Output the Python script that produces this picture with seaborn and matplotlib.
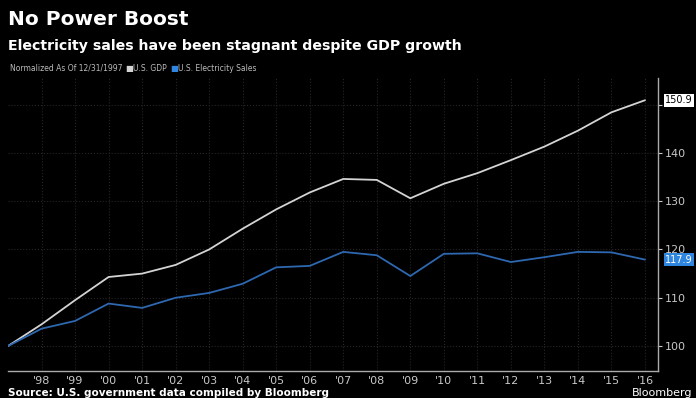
import pandas as pd
import matplotlib.pyplot as plt
import seaborn as sns

sns.set_theme(style="dark")
plt.rcParams['font.family'] = ['DejaVu Sans']

years = list(range(1997, 2017))
gdp = [100, 104.5, 109.5, 114.3, 115.0, 116.8, 120.0, 124.3, 128.3, 131.8,
       134.6, 134.4, 130.6, 133.6, 135.8, 138.5, 141.3, 144.6, 148.4, 150.9]
elec = [100, 103.6, 105.2, 108.8, 107.9, 110.0, 111.0, 112.9, 116.3, 116.6,
        119.5, 118.8, 114.5, 119.1, 119.2, 117.4, 118.4, 119.5, 119.4, 117.9]
tick_labels = ["'98", "'99", "'00", "'01", "'02", "'03", "'04", "'05", "'06", "'07",
               "'08", "'09", "'10", "'11", "'12", "'13", "'14", "'15", "'16"]

df = pd.DataFrame({'Year': years, 'U.S. GDP': gdp, 'U.S. Electricity Sales': elec})
long = df.melt(id_vars='Year', var_name='Series', value_name='Value')

gdp_color = '#d4d4d4'
elec_color = '#2e68b0'
tag_blue = '#2f86e0'

fig = plt.figure(figsize=(6.96, 3.98), dpi=100, facecolor='black')
ax = fig.add_axes([0.0115, 0.068, 0.934, 0.736])
ax.set_facecolor('black')

sns.lineplot(data=long, x='Year', y='Value', hue='Series',
             palette={'U.S. GDP': gdp_color, 'U.S. Electricity Sales': elec_color},
             linewidth=1.3, legend=False, ax=ax)

ax.set_xlim(1997, 2016.39)
ax.set_ylim(94.85, 155.5)
ax.set_xticks(years[1:])
ax.set_xticklabels(tick_labels)
ax.set_yticks([100, 110, 120, 130, 140, 150])
# the 150 label sits under the GDP value tag
ax.set_yticklabels(['100', '110', '120', '130', '140', ''])
ax.yaxis.tick_right()
ax.set_xlabel('')
ax.set_ylabel('')
ax.tick_params(axis='both', colors='#c8c8c8', labelsize=8, length=3, width=0.8,
               direction='out')
ax.tick_params(axis='x', length=2, pad=2)
ax.tick_params(axis='y', pad=2)
ax.grid(True, color='#262626', linewidth=0.8, linestyle=':')
for side in ['top', 'left']:
    ax.spines[side].set_visible(False)
for side in ['bottom', 'right']:
    ax.spines[side].set_color('#aaaaaa')
    ax.spines[side].set_linewidth(1.0)

# end value tags
ax.annotate('150.9', xy=(1.0, gdp[-1]), xycoords=('axes fraction', 'data'),
            xytext=(5, 0), textcoords='offset points', va='center', ha='left',
            fontsize=7, color='black', annotation_clip=False,
            bbox=dict(boxstyle='square,pad=0.15', fc='white', ec='none'))
ax.annotate('117.9', xy=(1.0, elec[-1]), xycoords=('axes fraction', 'data'),
            xytext=(5, 0), textcoords='offset points', va='center', ha='left',
            fontsize=7, color='white', annotation_clip=False,
            bbox=dict(boxstyle='square,pad=0.15', fc=tag_blue, ec='none'))

# titles
fig.text(0.012, 0.952, 'No Power Boost', color='white', fontsize=14.5,
         fontweight='bold', va='center', ha='left')
fig.text(0.012, 0.885, 'Electricity sales have been stagnant despite GDP growth',
         color='white', fontsize=10.2, fontweight='bold', va='center', ha='left')

# legend line
fig.text(0.015, 0.829, 'Normalized As Of 12/31/1997', color='#bbbbbb', fontsize=5.5,
         va='center', ha='left')
fig.text(0.180, 0.829, '\u25A0', color=gdp_color, fontsize=6, va='center', ha='left')
fig.text(0.191, 0.829, 'U.S. GDP', color='#bbbbbb', fontsize=5.5, va='center', ha='left')
fig.text(0.245, 0.829, '\u25A0', color=tag_blue, fontsize=6, va='center', ha='left')
fig.text(0.256, 0.829, 'U.S. Electricity Sales', color='#bbbbbb', fontsize=5.5,
         va='center', ha='left')

# footer
fig.text(0.012, 0.0, 'Source: U.S. government data compiled by Bloomberg',
         color='white', fontsize=7.5, fontweight='bold', va='bottom', ha='left')
fig.text(0.995, 0.0, 'Bloomberg', color='white', fontsize=8, va='bottom', ha='right')

fig.savefig('out.png', dpi=100, facecolor='black')
